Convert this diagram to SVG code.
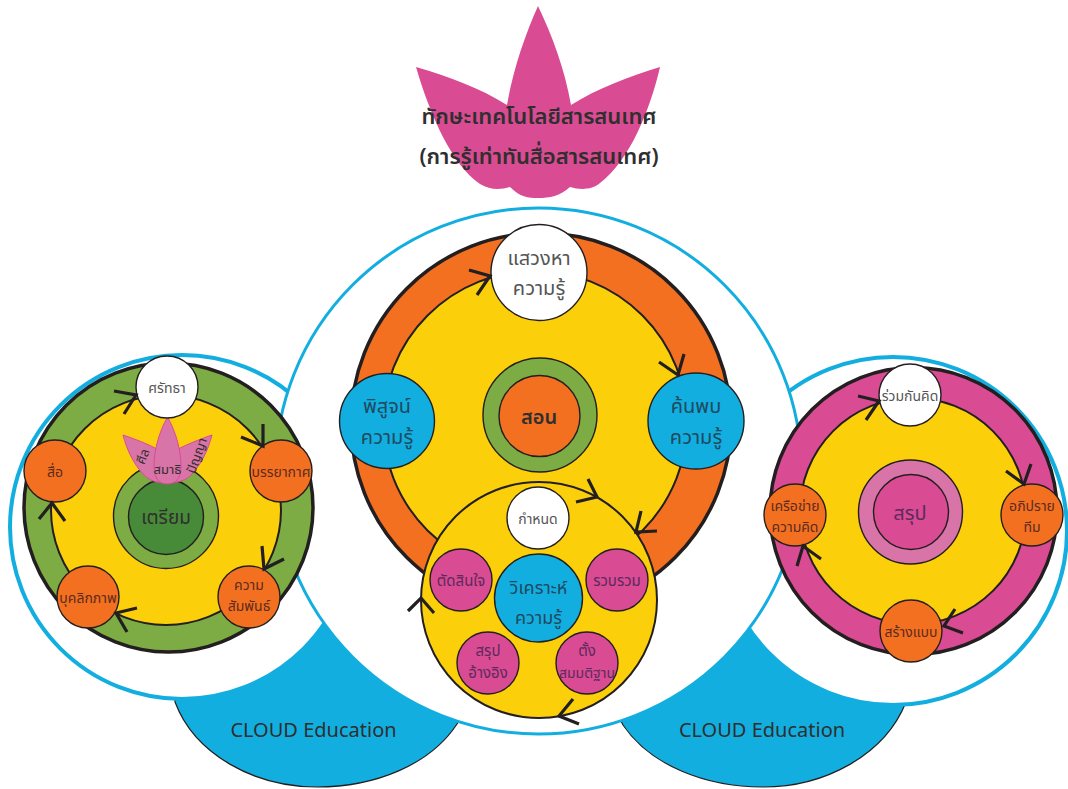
<svg xmlns="http://www.w3.org/2000/svg" width="1068" height="789" viewBox="0 0 1068 789">
<style>
text{font-family:"Noto Sans","Noto Sans Thai","Noto Sans CJK SC",sans-serif;text-anchor:middle;fill:#2f2f2f}
.n{stroke:#231f20;stroke-width:1.4}
.e{stroke:#231f20;stroke-width:2}
.o{fill:#f37021}.p{fill:#d94b92}.y{fill:#fccf0b}.w{fill:#fff}.b{fill:#12aee0}.g{fill:#7cac43}.d{fill:#478a38}.l{fill:#d974a8}
.big{stroke:#231f20;stroke-width:3.5}
.ring{fill:#fff;stroke:#12aee0;stroke-width:4}
.ring3{fill:#fff;stroke:#12aee0;stroke-width:3}
.cloud{fill:#12aee0;stroke:#231f20;stroke-width:1.2}
.a{fill:none;stroke:#231f20;stroke-width:3.2}
.pt{fill:#d974a8;stroke:#d94b92;stroke-width:1}
.s13{font-size:13px}.s14{font-size:14px}.s15{font-size:15px}.s16{font-size:16px}.s18{font-size:18px}.s19{font-size:19px}.s20{font-size:20px}
.dk{fill:#5b2b1e}.gr{fill:#555}.tb{fill:#1f4a60}.tp{fill:#5c2a5c}
</style>
<g id="cloud-left"><path class="cloud" d="M175,702C195,755 255,787 317,787C375,787 430,765 457,724L480,690L475,600L175,600Z"/></g>
<g id="cloud-right"><path class="cloud" d="M623,725C650,765 705,787 763,787C825,787 885,755 906,702L906,600L610,600L605,690Z"/></g>
<g id="ring-left"><circle cx="182" cy="527" r="172" class="ring"/></g>
<g id="ring-right"><circle cx="893" cy="531" r="174" class="ring"/></g>
<g id="ring-center"><circle cx="538.500" cy="471" r="263" class="ring3"/></g>
<g id="label-cloud-left"><text x="313.500" y="737" class="s20">CLOUD Education</text></g>
<g id="label-cloud-right"><text x="762" y="737" class="s20">CLOUD Education</text></g>
<g id="lotus-title">
<path class="p" d="M538,6C525,35 513,70 507,105C480,88 450,77 416,67C430,115 452,165 480,184C490,190 500,190 510,187C520,197 528,198 538,198C550,198 560,196 570,187C580,190 592,190 600,183C630,160 650,110 660,67C628,77 598,88 571,105C565,70 552,35 538,6Z"/>
<text x="539" y="124" font-size="22" font-weight="600">ทักษะเทคโนโลยีสารสนเทศ</text>
<text x="539" y="164" font-size="22" font-weight="600">(การรู้เท่าทันสื่อสารสนเทศ)</text>
</g>
<g id="prepare-disc">
<circle cx="168.500" cy="507.500" r="144.500" class="g big"/>
<circle cx="166" cy="510" r="115" class="y e"/>
</g>
<g id="teach-disc">
<circle cx="541" cy="423" r="190" class="o big"/>
<circle cx="535" cy="423" r="152" class="y e"/>
</g>
<g id="summary-disc">
<circle cx="913.500" cy="511" r="143.500" class="p big"/>
<circle cx="913" cy="511" r="113" class="y e"/>
</g>
<g id="prepare-core"><circle cx="166" cy="516" r="52.500" class="g n"/><circle cx="166" cy="517" r="37.500" class="d n"/><text x="166" y="524" class="s19">เตรียม</text></g>
<g id="lotus-small">
<path class="pt" d="M123,435C135,439 148,444 159,450L178,482C165,484 152,484 143,474C133,463 127,450 123,435Z"/>
<path class="pt" d="M212,435C200,439 188,444 176,450L156,478C170,484 183,484 192,474C202,463 208,450 212,435Z"/>
<path class="pt" d="M167.500,417C159,432 154,450 154,467C154,478 159,484 167,484C176,484 181,478 181,467C181,450 176,432 167.500,417Z"/>
<text transform="translate(147,458) rotate(-70)" class="s13">ศีล</text>
<text x="167.500" y="474" class="s13">สมาธิ</text>
<text transform="translate(201,457) rotate(-70)" class="s13">ปัญญา</text>
</g>
<g id="sattha"><circle cx="167" cy="387" r="31" class="w n"/><text x="167" y="393" class="s14 gr">ศรัทธา</text></g>
<g id="banyakat"><circle cx="281" cy="471" r="31" class="o n"/><text x="281" y="477" class="s14 dk">บรรยากาศ</text></g>
<g id="samphan"><circle cx="249" cy="597" r="31" class="o n"/><text x="249" y="590" class="s14 dk">ความ</text><text x="249" y="611" class="s14 dk">สัมพันธ์</text></g>
<g id="bukkhalik"><circle cx="88" cy="597" r="31" class="o n"/><text x="88" y="603" class="s14 dk">บุคลิกภาพ</text></g>
<g id="sue"><circle cx="55" cy="471" r="31" class="o n"/><text x="55" y="477" class="s14 dk">สื่อ</text></g>
<g id="teach-core"><circle cx="540" cy="415" r="57" class="g n"/><circle cx="539.500" cy="416" r="40.500" class="o n"/><text x="539" y="424" class="s20" font-weight="600">สอน</text></g>
<g id="seek"><circle cx="539" cy="272.500" r="48" class="w n"/><text x="539" y="265" class="s20 gr">แสวงหา</text><text x="539" y="295" class="s20 gr">ความรู้</text></g>
<g id="prove"><circle cx="387" cy="421" r="47.500" class="b n"/><text x="387" y="413" class="s20 tb">พิสูจน์</text><text x="387" y="444" class="s20 tb">ความรู้</text></g>
<g id="discover"><circle cx="696" cy="421" r="48" class="b n"/><text x="696" y="413" class="s20 tb">ค้นพบ</text><text x="696" y="444" class="s20 tb">ความรู้</text></g>
<g id="analyze-disc"><circle cx="539" cy="600" r="118" class="y e"/></g>
<g id="define"><circle cx="538" cy="518" r="31" class="w n"/><text x="538" y="524" class="s14 gr">กำหนด</text></g>
<g id="analyze"><circle cx="538.500" cy="598" r="44" class="b n"/><text x="538.500" y="594" class="s18 tb">วิเคราะห์</text><text x="538.500" y="624" class="s18 tb">ความรู้</text></g>
<g id="decide"><circle cx="461" cy="580" r="31" class="p n"/><text x="461" y="586" class="s15 tp">ตัดสินใจ</text></g>
<g id="collect"><circle cx="617" cy="580" r="31" class="p n"/><text x="617" y="586" class="s15 tp">รวบรวม</text></g>
<g id="conclude"><circle cx="488" cy="663" r="31" class="p n"/><text x="488" y="656" class="s15 tp">สรุป</text><text x="488" y="678" class="s15 tp">อ้างอิง</text></g>
<g id="hypothesis"><circle cx="587" cy="663" r="31" class="p n"/><text x="587" y="656" class="s15 tp">ตั้ง</text><text x="587" y="678" class="s14 tp">สมมติฐาน</text></g>
<g id="summary-core"><circle cx="910.500" cy="512" r="52" class="l n"/><circle cx="911" cy="512" r="37.500" class="p n"/><text x="910" y="520" class="s20 tp">สรุป</text></g>
<g id="share"><circle cx="910" cy="395" r="31" class="w n"/><text x="910" y="401" class="s14 gr">ร่วมกันคิด</text></g>
<g id="discuss"><circle cx="1032" cy="515" r="31" class="o n"/><text x="1032" y="511" class="s14 dk">อภิปราย</text><text x="1032" y="532" class="s14 dk">ทีม</text></g>
<g id="create"><circle cx="911" cy="631" r="31" class="o n"/><text x="911" y="637" class="s14 dk">สร้างแบบ</text></g>
<g id="network"><circle cx="795" cy="515" r="31" class="o n"/><text x="795" y="511" class="s14 dk">เครือข่าย</text><text x="795" y="532" class="s14 dk">ความคิด</text></g>
<g id="connectors">
<path class="a" d="M114,391L136,395L124,414M241,437L263,446L263,424M262,546L264,569L284,559M137,608L116,613L127,632M39,519L52,503L65,521"/>
<path class="a" d="M858,396L879,401L866,420M1006,471L1024,484L1031,464M963,633L944,626L955,609M797,566L803,546L821,559"/>
<path class="a" d="M469,270L490,276L477,295M659,362L678,375L684,354"/>
<path class="a" d="M576,502L597,497L588,479M657,531L636,532L641,511M408,611L421,598L434,613M573,699L559,716L579,724"/>
</g>
</svg>
